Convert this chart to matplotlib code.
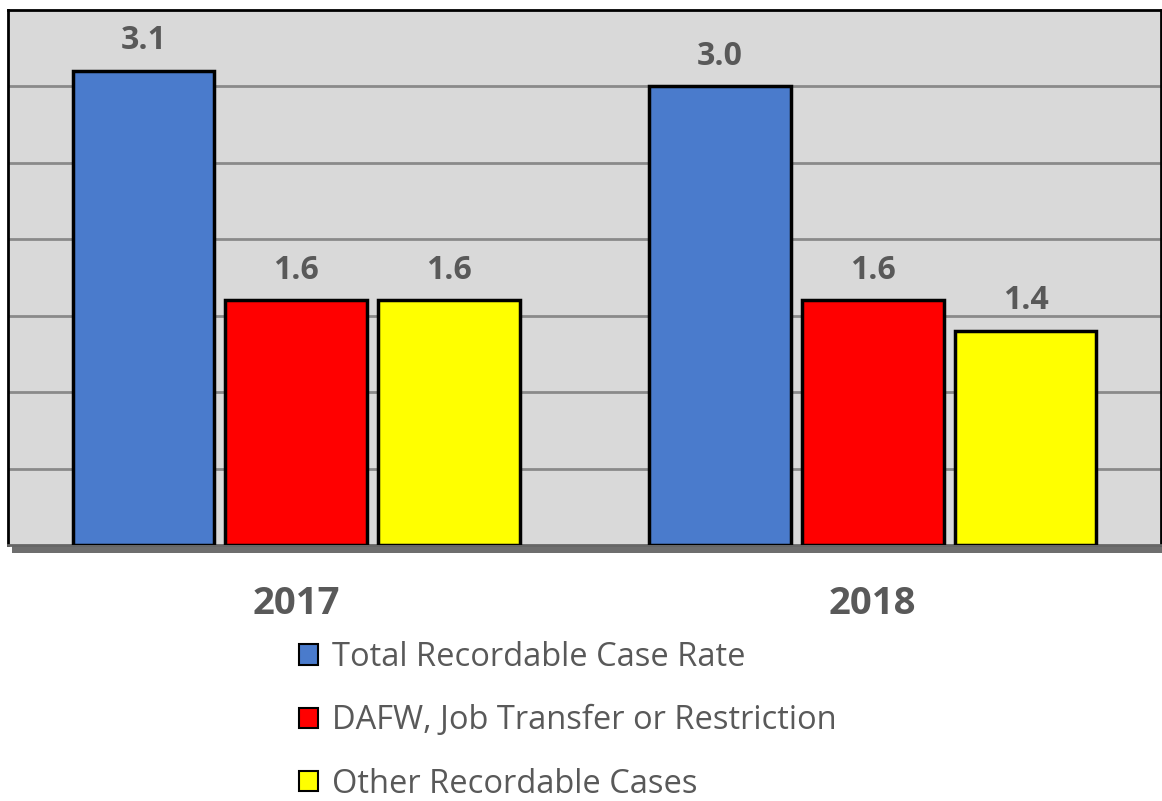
import matplotlib
matplotlib.use("Agg")
import matplotlib.pyplot as plt
import matplotlib.patheffects as pe
import numpy as np

plt.rcParams['font.family'] = ['Open Sans', 'DejaVu Sans']

years = ["2017", "2018"]
series = ["Total Recordable Case Rate",
          "DAFW, Job Transfer or Restriction",
          "Other Recordable Cases"]
total_rate = [3.1, 3.0]
dafw_rate = [1.6, 1.6]
other_rate = [1.6, 1.4]

colors = ["#4a7bcc", "#ff0000", "#ffff00"]
text_grey = "#595959"

fig = plt.figure(figsize=(11.62, 8.01), dpi=100)
ax = fig.add_axes([8 / 1162, 256 / 801, 1153 / 1162, 535 / 801])
ax.set_facecolor("#d9d9d9")
ax.patch.set_path_effects([pe.withSimplePatchShadow(offset=(3, -6), shadow_rgbFace="#555555", alpha=0.85)])

x = np.arange(len(years))
width = 0.246
step = 0.265
for i, (name, vals) in enumerate(zip(series, [total_rate, dafw_rate, other_rate])):
    bars = ax.bar(x + (i - 1) * step, vals, width, color=colors[i], edgecolor="black",
                  linewidth=2.5, label=name, zorder=3)
    for b, v in zip(bars, vals):
        ax.annotate(f"{v:.1f}", (b.get_x() + b.get_width() / 2, v), xytext=(0, 10),
                    textcoords="offset points", ha="center", va="bottom",
                    fontsize=23, fontweight="bold", color=text_grey)

ax.set_xlim(-0.5, 1.5)
ax.set_ylim(0, 3.5)
ax.set_yticks(np.arange(0.5, 3.5, 0.5))
ax.yaxis.grid(True, color="#8a8a8a", linewidth=2, zorder=1)
ax.set_axisbelow(True)
ax.tick_params(axis="y", left=False, labelleft=False)
ax.set_xticks(x)
ax.set_xticklabels(years, fontsize=27.5, fontweight="bold", color=text_grey)
ax.tick_params(axis="x", length=0, pad=29)

for s in ["left", "top", "right"]:
    ax.spines[s].set_color("black")
    ax.spines[s].set_linewidth(2)
ax.spines["bottom"].set_color("#666666")
ax.spines["bottom"].set_linewidth(2)

leg = ax.legend(loc="upper left", bbox_to_anchor=(299 / 1162, 1 - 641 / 801),
                bbox_transform=fig.transFigure, frameon=False, fontsize=23.5,
                handlelength=0.58, handleheight=0.58, handletextpad=0.42,
                labelspacing=0.93, borderpad=0, borderaxespad=0)
for t in leg.get_texts():
    t.set_color(text_grey)
for h in leg.legend_handles:
    h.set_linewidth(1.5)

fig.savefig("out.png", dpi=100)
